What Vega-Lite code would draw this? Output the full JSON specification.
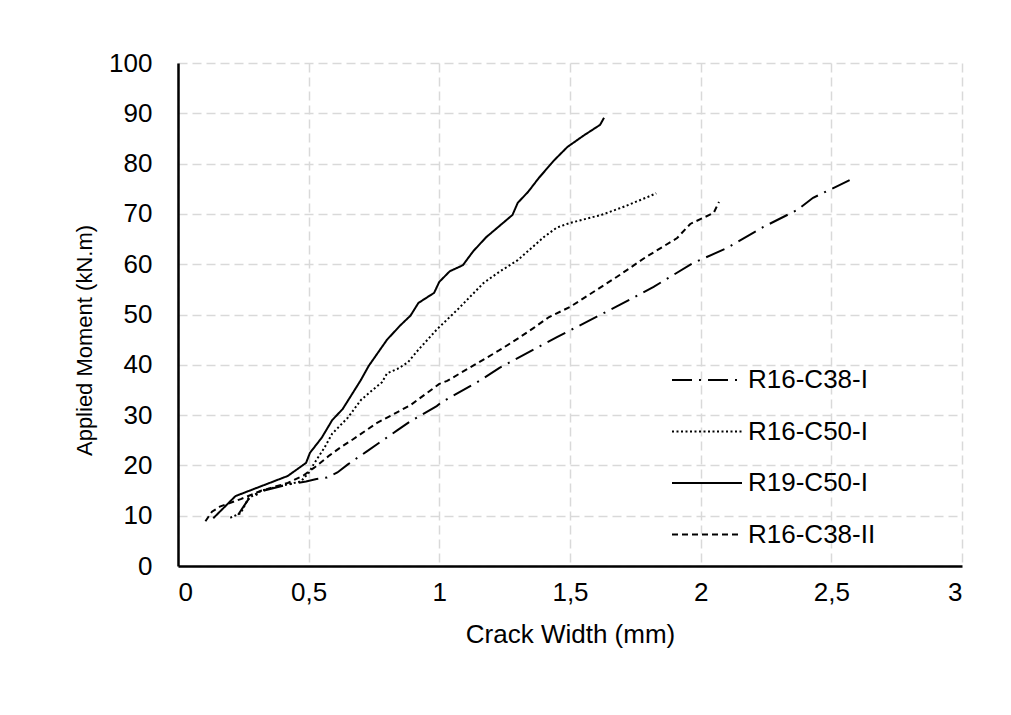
{
  "$schema": "https://vega.github.io/schema/vega-lite/v6.json",
  "width": 784,
  "height": 503,
  "autosize": {"type": "none"},
  "padding": {"left": 178, "top": 63, "right": 49, "bottom": 149},
  "background": "white",
  "config": {
    "font": "Liberation Sans",
    "view": {"stroke": null}
  },
  "datasets": {
    "pts": [
      {"s": "R19-C50-I", "x": 0.135, "y": 9.5},
      {"s": "R19-C50-I", "x": 0.22, "y": 13.9},
      {"s": "R19-C50-I", "x": 0.30, "y": 15.5},
      {"s": "R19-C50-I", "x": 0.42, "y": 17.9},
      {"s": "R19-C50-I", "x": 0.49, "y": 20.5},
      {"s": "R19-C50-I", "x": 0.505, "y": 22.5},
      {"s": "R19-C50-I", "x": 0.55, "y": 25.5},
      {"s": "R19-C50-I", "x": 0.59, "y": 29.0},
      {"s": "R19-C50-I", "x": 0.63, "y": 31.2},
      {"s": "R19-C50-I", "x": 0.67, "y": 34.5},
      {"s": "R19-C50-I", "x": 0.70, "y": 37.0},
      {"s": "R19-C50-I", "x": 0.73, "y": 39.8},
      {"s": "R19-C50-I", "x": 0.80, "y": 45.0},
      {"s": "R19-C50-I", "x": 0.85, "y": 47.8},
      {"s": "R19-C50-I", "x": 0.89, "y": 49.8},
      {"s": "R19-C50-I", "x": 0.92, "y": 52.3},
      {"s": "R19-C50-I", "x": 0.98, "y": 54.3},
      {"s": "R19-C50-I", "x": 1.0, "y": 56.5},
      {"s": "R19-C50-I", "x": 1.04, "y": 58.6},
      {"s": "R19-C50-I", "x": 1.09, "y": 59.8},
      {"s": "R19-C50-I", "x": 1.13, "y": 62.6},
      {"s": "R19-C50-I", "x": 1.18, "y": 65.4},
      {"s": "R19-C50-I", "x": 1.23, "y": 67.6},
      {"s": "R19-C50-I", "x": 1.28, "y": 69.8},
      {"s": "R19-C50-I", "x": 1.30, "y": 72.2},
      {"s": "R19-C50-I", "x": 1.34, "y": 74.4},
      {"s": "R19-C50-I", "x": 1.38, "y": 77.1},
      {"s": "R19-C50-I", "x": 1.44, "y": 80.7},
      {"s": "R19-C50-I", "x": 1.49, "y": 83.3},
      {"s": "R19-C50-I", "x": 1.55, "y": 85.5},
      {"s": "R19-C50-I", "x": 1.615, "y": 87.7},
      {"s": "R19-C50-I", "x": 1.63, "y": 89.1},

      {"s": "R16-C50-I", "x": 0.20, "y": 9.6},
      {"s": "R16-C50-I", "x": 0.24, "y": 10.5},
      {"s": "R16-C50-I", "x": 0.27, "y": 13.5},
      {"s": "R16-C50-I", "x": 0.32, "y": 15.0},
      {"s": "R16-C50-I", "x": 0.40, "y": 16.0},
      {"s": "R16-C50-I", "x": 0.47, "y": 16.8},
      {"s": "R16-C50-I", "x": 0.50, "y": 18.5},
      {"s": "R16-C50-I", "x": 0.52, "y": 20.3},
      {"s": "R16-C50-I", "x": 0.56, "y": 23.5},
      {"s": "R16-C50-I", "x": 0.59, "y": 26.3},
      {"s": "R16-C50-I", "x": 0.65, "y": 29.5},
      {"s": "R16-C50-I", "x": 0.70, "y": 33.0},
      {"s": "R16-C50-I", "x": 0.74, "y": 34.8},
      {"s": "R16-C50-I", "x": 0.78, "y": 36.5},
      {"s": "R16-C50-I", "x": 0.80, "y": 38.3},
      {"s": "R16-C50-I", "x": 0.84, "y": 39.2},
      {"s": "R16-C50-I", "x": 0.88, "y": 40.5},
      {"s": "R16-C50-I", "x": 0.92, "y": 43.0},
      {"s": "R16-C50-I", "x": 0.99, "y": 47.0},
      {"s": "R16-C50-I", "x": 1.07, "y": 51.0},
      {"s": "R16-C50-I", "x": 1.17, "y": 56.3},
      {"s": "R16-C50-I", "x": 1.23, "y": 58.5},
      {"s": "R16-C50-I", "x": 1.30, "y": 60.8},
      {"s": "R16-C50-I", "x": 1.40, "y": 65.4},
      {"s": "R16-C50-I", "x": 1.45, "y": 67.3},
      {"s": "R16-C50-I", "x": 1.50, "y": 68.2},
      {"s": "R16-C50-I", "x": 1.62, "y": 69.8},
      {"s": "R16-C50-I", "x": 1.70, "y": 71.3},
      {"s": "R16-C50-I", "x": 1.79, "y": 73.2},
      {"s": "R16-C50-I", "x": 1.83, "y": 74.1},

      {"s": "R16-C38-II", "x": 0.105, "y": 8.9},
      {"s": "R16-C38-II", "x": 0.13, "y": 10.8},
      {"s": "R16-C38-II", "x": 0.16, "y": 11.8},
      {"s": "R16-C38-II", "x": 0.24, "y": 13.3},
      {"s": "R16-C38-II", "x": 0.32, "y": 15.0},
      {"s": "R16-C38-II", "x": 0.42, "y": 16.5},
      {"s": "R16-C38-II", "x": 0.48, "y": 18.0},
      {"s": "R16-C38-II", "x": 0.52, "y": 19.5},
      {"s": "R16-C38-II", "x": 0.58, "y": 22.0},
      {"s": "R16-C38-II", "x": 0.62, "y": 23.5},
      {"s": "R16-C38-II", "x": 0.67, "y": 25.2},
      {"s": "R16-C38-II", "x": 0.76, "y": 28.4},
      {"s": "R16-C38-II", "x": 0.84, "y": 30.6},
      {"s": "R16-C38-II", "x": 0.89, "y": 32.0},
      {"s": "R16-C38-II", "x": 1.0, "y": 36.2},
      {"s": "R16-C38-II", "x": 1.03, "y": 36.8},
      {"s": "R16-C38-II", "x": 1.23, "y": 42.9},
      {"s": "R16-C38-II", "x": 1.30, "y": 45.2},
      {"s": "R16-C38-II", "x": 1.36, "y": 47.3},
      {"s": "R16-C38-II", "x": 1.42, "y": 49.5},
      {"s": "R16-C38-II", "x": 1.50, "y": 51.5},
      {"s": "R16-C38-II", "x": 1.68, "y": 57.5},
      {"s": "R16-C38-II", "x": 1.79, "y": 61.4},
      {"s": "R16-C38-II", "x": 1.91, "y": 65.2},
      {"s": "R16-C38-II", "x": 1.96, "y": 68.0},
      {"s": "R16-C38-II", "x": 2.05, "y": 70.2},
      {"s": "R16-C38-II", "x": 2.07, "y": 72.4},

      {"s": "R16-C38-I", "x": 0.23, "y": 10.2},
      {"s": "R16-C38-I", "x": 0.27, "y": 13.3},
      {"s": "R16-C38-I", "x": 0.33, "y": 15.0},
      {"s": "R16-C38-I", "x": 0.42, "y": 16.2},
      {"s": "R16-C38-I", "x": 0.49, "y": 16.8},
      {"s": "R16-C38-I", "x": 0.53, "y": 17.3},
      {"s": "R16-C38-I", "x": 0.57, "y": 17.6},
      {"s": "R16-C38-I", "x": 0.61, "y": 18.6},
      {"s": "R16-C38-I", "x": 0.65, "y": 20.2},
      {"s": "R16-C38-I", "x": 0.72, "y": 22.7},
      {"s": "R16-C38-I", "x": 0.77, "y": 24.5},
      {"s": "R16-C38-I", "x": 0.84, "y": 27.0},
      {"s": "R16-C38-I", "x": 0.89, "y": 28.8},
      {"s": "R16-C38-I", "x": 0.99, "y": 31.8},
      {"s": "R16-C38-I", "x": 1.01, "y": 32.6},
      {"s": "R16-C38-I", "x": 1.16, "y": 37.0},
      {"s": "R16-C38-I", "x": 1.23, "y": 39.4},
      {"s": "R16-C38-I", "x": 1.45, "y": 45.5},
      {"s": "R16-C38-I", "x": 1.69, "y": 51.9},
      {"s": "R16-C38-I", "x": 1.82, "y": 55.5},
      {"s": "R16-C38-I", "x": 1.97, "y": 60.2},
      {"s": "R16-C38-I", "x": 2.10, "y": 63.2},
      {"s": "R16-C38-I", "x": 2.24, "y": 67.4},
      {"s": "R16-C38-I", "x": 2.37, "y": 70.8},
      {"s": "R16-C38-I", "x": 2.43, "y": 73.2},
      {"s": "R16-C38-I", "x": 2.57, "y": 76.7}
    ]
  },
  "data": {"name": "pts"},
  "mark": {"type": "line", "color": "black", "strokeWidth": 2},
  "encoding": {
    "x": {
      "field": "x",
      "type": "quantitative",
      "scale": {"domain": [0, 3], "nice": false},
      "axis": {
        "title": "Crack Width (mm)",
        "values": [0, 0.5, 1, 1.5, 2, 2.5, 3],
        "labelExpr": "replace(format(datum.value, '~g'), '.', ',')",
        "ticks": false,
        "labelPadding": 13,
        "labelFontSize": 26,
        "labelColor": "black",
        "titleFontSize": 26,
        "titleFontWeight": "normal",
        "titleColor": "black",
        "titlePadding": 16,
        "domainColor": "black",
        "domainWidth": 2.5,
        "grid": true,
        "gridColor": "#d9d9d9",
        "gridDash": [9, 5],
        "gridWidth": 1.5
      }
    },
    "y": {
      "field": "y",
      "type": "quantitative",
      "scale": {"domain": [0, 100], "nice": false},
      "axis": {
        "title": "Applied Moment (kN.m)",
        "values": [0, 10, 20, 30, 40, 50, 60, 70, 80, 90, 100],
        "ticks": false,
        "labelPadding": 26,
        "labelFontSize": 26,
        "labelColor": "black",
        "titleFontSize": 22,
        "titleFontWeight": "normal",
        "titleColor": "black",
        "titlePadding": 12,
        "titleY": 277,
        "domainColor": "black",
        "domainWidth": 2.5,
        "grid": true,
        "gridColor": "#d9d9d9",
        "gridDash": [9, 5],
        "gridWidth": 1.5
      }
    },
    "strokeDash": {
      "field": "s",
      "type": "nominal",
      "scale": {
        "domain": ["R16-C38-I", "R16-C50-I", "R19-C50-I", "R16-C38-II"],
        "range": [[20, 7, 2, 7], [2, 2.5], [1, 0], [6, 4]]
      },
      "legend": {
        "title": null,
        "orient": "none",
        "legendX": 493,
        "legendY": 302,
        "symbolType": "stroke",
        "symbolSize": 4900,
        "symbolStrokeColor": "black",
        "symbolStrokeWidth": 2,
        "clipHeight": 30,
        "rowPadding": 21.5,
        "labelFontSize": 26,
        "labelColor": "black",
        "labelOffset": 5,
        "labelLimit": 300
      }
    }
  }
}
